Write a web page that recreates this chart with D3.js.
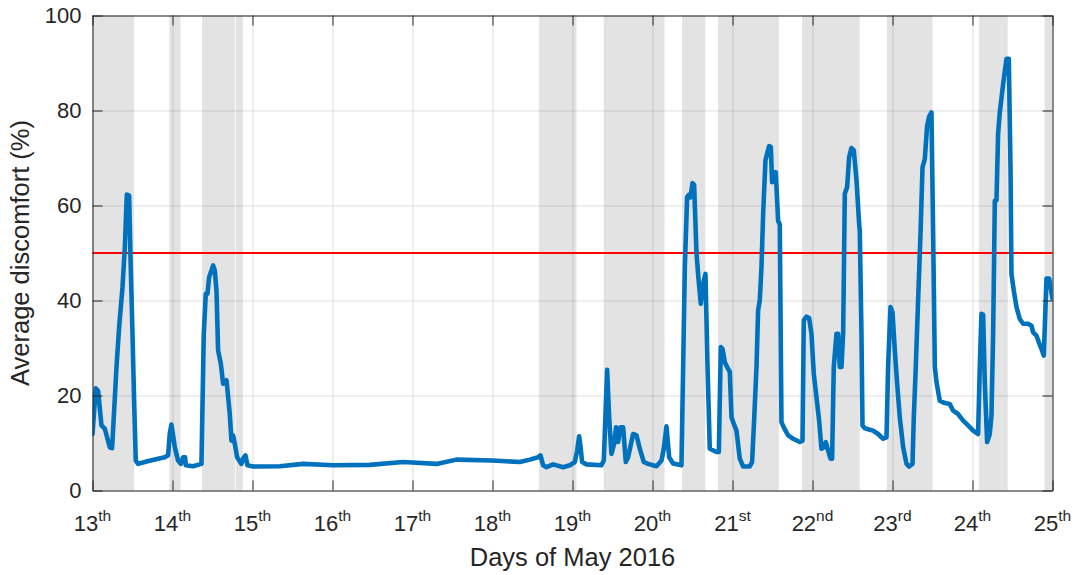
<!DOCTYPE html>
<html>
<head>
<meta charset="utf-8">
<script src="https://cdn.jsdelivr.net/npm/d3@7"></script>
<style>
  html, body { margin: 0; padding: 0; background: #fff; }
  svg { display: block; font-family: "Liberation Sans", Arial, Helvetica, sans-serif; }
</style>
</head>
<body>
<svg id="chart" width="1076" height="575"></svg>
<script>
// Time of each sample (day of May 2016, fractional) and the average discomfort (%)
const sampleDays = [
  13.000, 13.041, 13.070, 13.112, 13.154, 13.216, 13.245, 13.300, 13.333, 13.375,
  13.404, 13.429, 13.458, 13.475, 13.500, 13.520, 13.541, 13.570, 13.675, 13.820,
  13.904, 13.945, 13.966, 13.987, 14.029, 14.070, 14.104, 14.133, 14.158, 14.166,
  14.258, 14.362, 14.391, 14.416, 14.437, 14.458, 14.487, 14.508, 14.529, 14.550,
  14.570, 14.604, 14.633, 14.675, 14.716, 14.737, 14.758, 14.779, 14.808, 14.862,
  14.883, 14.912, 14.937, 15.008, 15.341, 15.633, 16.008, 16.466, 16.883, 17.000,
  17.300, 17.550, 18.000, 18.342, 18.466, 18.570, 18.600, 18.633, 18.675, 18.758,
  18.883, 18.966, 19.029, 19.058, 19.083, 19.100, 19.120, 19.175, 19.362, 19.391,
  19.433, 19.458, 19.487, 19.520, 19.545, 19.570, 19.600, 19.633, 19.666, 19.695,
  19.758, 19.800, 19.841, 19.891, 19.945, 20.050, 20.112, 20.141, 20.175, 20.208,
  20.258, 20.362, 20.383, 20.404, 20.433, 20.458, 20.475, 20.500, 20.520, 20.550,
  20.575, 20.604, 20.633, 20.662, 20.688, 20.716, 20.800, 20.829, 20.854, 20.875,
  20.904, 20.945, 20.966, 20.988, 21.008, 21.050, 21.091, 21.133, 21.216, 21.245,
  21.270, 21.300, 21.320, 21.341, 21.362, 21.383, 21.412, 21.437, 21.458, 21.479,
  21.495, 21.520, 21.541, 21.570, 21.591, 21.612, 21.641, 21.695, 21.758, 21.841,
  21.875, 21.891, 21.925, 21.958, 21.987, 22.016, 22.050, 22.083, 22.112, 22.141,
  22.166, 22.195, 22.225, 22.245, 22.266, 22.300, 22.320, 22.341, 22.362, 22.383,
  22.404, 22.433, 22.458, 22.487, 22.516, 22.550, 22.583, 22.591, 22.612, 22.625,
  22.654, 22.716, 22.758, 22.820, 22.883, 22.925, 22.945, 22.975, 23.000, 23.029,
  23.058, 23.091, 23.133, 23.175, 23.208, 23.250, 23.266, 23.291, 23.320, 23.350,
  23.375, 23.404, 23.433, 23.458, 23.487, 23.508, 23.529, 23.550, 23.591, 23.654,
  23.716, 23.758, 23.820, 23.883, 23.945, 24.008, 24.070, 24.091, 24.112, 24.133,
  24.154, 24.183, 24.216, 24.237, 24.258, 24.279, 24.300, 24.320, 24.341, 24.383,
  24.425, 24.454, 24.475, 24.487, 24.516, 24.550, 24.591, 24.633, 24.695, 24.737,
  24.758, 24.800, 24.829, 24.862, 24.891, 24.925, 24.958, 25.000
];
const discomfort = [
  11.9, 21.5, 21.0, 13.7, 13.0, 9.1, 8.9, 26.0, 34.4, 42.8,
  51.2, 62.3, 62.1, 49.1, 33.0, 19.0, 6.3, 5.6, 6.1, 6.7,
  7.0, 7.4, 12.0, 13.9, 9.1, 6.3, 5.6, 7.0, 7.0, 5.3,
  5.1, 5.6, 33.0, 41.4, 41.4, 44.9, 46.3, 47.4, 46.3, 42.0,
  29.5, 26.7, 22.5, 23.2, 16.1, 10.5, 11.6, 9.8, 7.0, 5.6,
  6.7, 7.4, 5.3, 5.05, 5.1, 5.6, 5.3, 5.4, 6.0, 5.9,
  5.6, 6.5, 6.3, 6.0, 6.5, 7.0, 7.4, 5.3, 4.9, 5.5,
  4.9, 5.3, 6.0, 8.4, 11.4, 9.3, 6.0, 5.5, 5.3, 6.3,
  25.4, 15.4, 7.7, 9.8, 13.3, 10.2, 13.3, 13.3, 6.0, 7.0,
  11.9, 11.6, 8.8, 6.0, 5.6, 5.1, 6.3, 8.8, 13.5, 7.0,
  5.7, 5.3, 26.0, 47.0, 61.8, 62.3, 61.7, 64.7, 64.4, 50.0,
  44.5, 39.3, 43.5, 45.6, 26.0, 8.8, 8.1, 8.1, 30.2, 29.8,
  27.0, 25.6, 25.0, 15.4, 14.4, 12.6, 6.7, 5.05, 5.05, 6.0,
  14.7, 26.0, 37.9, 40.0, 47.0, 58.2, 69.5, 71.2, 72.5, 72.3,
  64.9, 67.0, 67.0, 56.8, 56.0, 14.4, 13.3, 11.6, 10.9, 10.2,
  10.5, 35.8, 36.6, 36.3, 33.0, 24.6, 19.6, 14.7, 8.8, 9.1,
  10.2, 8.4, 6.7, 6.7, 26.0, 33.0, 33.0, 26.0, 26.0, 33.0,
  62.5, 63.9, 70.2, 72.1, 71.6, 65.3, 56.1, 54.7, 33.0, 13.7,
  13.1, 12.8, 12.6, 11.9, 10.9, 11.2, 26.0, 38.6, 37.5, 29.5,
  22.5, 15.4, 9.1, 5.6, 5.05, 5.6, 15.4, 26.0, 40.0, 54.0,
  68.0, 69.8, 76.8, 78.7, 79.6, 54.0, 26.0, 22.8, 18.9, 18.4,
  18.2, 16.8, 16.1, 14.7, 13.7, 12.6, 11.9, 26.0, 37.2, 37.0,
  22.5, 10.2, 11.9, 15.8, 33.0, 61.0, 61.1, 75.1, 79.6, 85.6,
  90.9, 90.9, 68.0, 45.6, 42.1, 38.6, 36.1, 35.1, 35.1, 34.7,
  33.3, 32.6, 31.2, 29.8, 28.4, 44.6, 44.6, 40.4
];

// Shaded periods: start and end day of each
const bandStarts = [13.00, 13.96, 14.37, 14.79, 18.58, 19.39, 20.37, 20.82, 21.87, 22.93, 24.08, 24.90];
const bandEnds   = [13.52, 14.10, 14.78, 14.88, 19.05, 20.15, 20.66, 21.58, 22.59, 23.50, 24.44, 25.00];

// Axis ticks and labels
const dayTicks    = [13, 14, 15, 16, 17, 18, 19, 20, 21, 22, 23, 24, 25];
const daySuffixes = ["th", "th", "th", "th", "th", "th", "th", "th", "st", "nd", "rd", "th", "th"];
const valueTicks  = [0, 20, 40, 60, 80, 100];
const thresholdValue = 50;

const xLabel = "Days of May 2016";
const yLabel = "Average discomfort (%)";

// Layout
const svg = d3.select("#chart");
const margin = { left: 92.5, right: 23.5, top: 15.5, bottom: 84.5 };
const W = 1076, H = 575;
const innerW = W - margin.left - margin.right;
const innerH = H - margin.top - margin.bottom;
const axisColor = "#262626";

const x = d3.scaleLinear().domain([13, 25]).range([0, innerW]);
const y = d3.scaleLinear().domain([0, 100]).range([innerH, 0]);

const g = svg.append("g").attr("transform", `translate(${margin.left},${margin.top})`);

g.append("defs").append("clipPath").attr("id", "plotClip")
  .append("rect").attr("x", 0).attr("y", 0).attr("width", innerW).attr("height", innerH);

// Background shaded periods
const bands = bandStarts.map((s, i) => ({ s, e: bandEnds[i] }));
g.append("g").selectAll("rect").data(bands).join("rect")
  .attr("x", d => x(d.s))
  .attr("y", 0)
  .attr("width", d => x(d.e) - x(d.s))
  .attr("height", innerH)
  .attr("fill", "#e3e3e3");

// Grid lines
const gridX = g.append("g").attr("transform", `translate(0,${innerH})`)
  .call(d3.axisBottom(x).tickValues(dayTicks).tickSize(-innerH).tickFormat(""));
const gridY = g.append("g")
  .call(d3.axisLeft(y).tickValues(valueTicks).tickSize(-innerW).tickFormat(""));
[gridX, gridY].forEach(gg => {
  gg.select(".domain").remove();
  gg.selectAll(".tick line").attr("stroke", "rgba(38,38,38,0.15)").attr("stroke-width", 1);
});

// Threshold line
g.append("line")
  .attr("x1", 0).attr("x2", innerW)
  .attr("y1", y(thresholdValue)).attr("y2", y(thresholdValue))
  .attr("stroke", "#ff0000").attr("stroke-width", 2);

// Discomfort series
const series = sampleDays.map((t, i) => ({ t, v: discomfort[i] }));
const line = d3.line().x(d => x(d.t)).y(d => y(d.v));
g.append("path")
  .datum(series)
  .attr("clip-path", "url(#plotClip)")
  .attr("d", line)
  .attr("fill", "none")
  .attr("stroke", "#0072bd")
  .attr("stroke-width", 4.6)
  .attr("stroke-linejoin", "round")
  .attr("stroke-linecap", "round");

// Axes with inward ticks on all four sides
function styleAxis(sel) {
  sel.select(".domain").attr("stroke", axisColor).attr("stroke-width", 1);
  sel.selectAll(".tick line").attr("stroke", axisColor).attr("stroke-width", 1);
}
const bottomAxis = g.append("g").attr("transform", `translate(0,${innerH})`)
  .call(d3.axisBottom(x).tickValues(dayTicks).tickSizeInner(-10).tickSizeOuter(0).tickPadding(0).tickFormat(""));
styleAxis(bottomAxis);
const topAxis = g.append("g")
  .call(d3.axisTop(x).tickValues(dayTicks).tickSizeInner(-10).tickSizeOuter(0).tickFormat(""));
styleAxis(topAxis);
const leftAxis = g.append("g")
  .call(d3.axisLeft(y).tickValues(valueTicks).tickSizeInner(-10).tickSizeOuter(0).tickPadding(11));
styleAxis(leftAxis);
leftAxis.selectAll(".tick text")
  .attr("fill", axisColor)
  .attr("font-size", 22)
  .attr("font-family", "'Liberation Sans', Arial, sans-serif");
const rightAxis = g.append("g").attr("transform", `translate(${innerW},0)`)
  .call(d3.axisRight(y).tickValues(valueTicks).tickSizeInner(-10).tickSizeOuter(0).tickFormat(""));
styleAxis(rightAxis);

// Day labels with ordinal suffixes as superscripts
const dayLabels = g.append("g").selectAll("text").data(dayTicks).join("text")
  .attr("x", d => x(d))
  .attr("y", innerH + 40.5)
  .attr("text-anchor", "middle")
  .attr("fill", axisColor)
  .attr("font-size", 22);
dayLabels.append("tspan").text(d => d);
dayLabels.append("tspan")
  .attr("font-size", 15.5)
  .attr("dy", -10.5)
  .text((d, i) => daySuffixes[i]);

// Axis titles
g.append("text")
  .attr("x", innerW / 2)
  .attr("y", innerH + 75.5)
  .attr("text-anchor", "middle")
  .attr("fill", axisColor)
  .attr("font-size", 25.5)
  .text(xLabel);

g.append("text")
  .attr("transform", `translate(${28.5 - margin.left},${innerH / 2}) rotate(-90)`)
  .attr("text-anchor", "middle")
  .attr("fill", axisColor)
  .attr("font-size", 25.5)
  .text(yLabel);
</script>
</body>
</html>
